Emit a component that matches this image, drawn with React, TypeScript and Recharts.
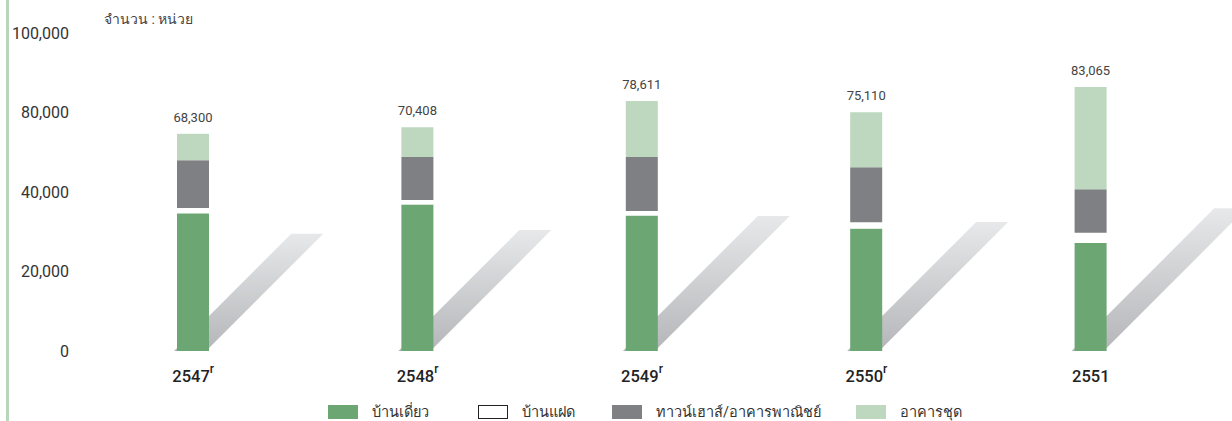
import { BarChart, Bar, XAxis, YAxis, LabelList } from "recharts"

const years = ["2547", "2548", "2549", "2550", "2551"]
const revised = [true, true, true, true, false]
const detached = [43300, 46100, 42600, 38500, 34000]
const semiDetached = [1700, 1400, 1400, 2000, 3200]
const townhouse = [15000, 13500, 17000, 17300, 13700]
const condo = [8300, 9400, 17600, 17300, 32100]
const totals = [68300, 70408, 78611, 75110, 83065]

const yTicks = [0, 25000, 50000, 75000, 100000]
const yTickLabels = ["0", "20,000", "40,000", "80,000", "100,000"]

const seriesNames = ["บ้านเดี่ยว", "บ้านแฝด", "ทาวน์เฮาส์/อาคารพาณิชย์", "อาคารชุด"]
const COLORS = ["#6ba673", "#ffffff", "#7f8083", "#bdd8be"]

const FONT = "Roboto, 'Noto Sans', sans-serif"
// shadow length relative to the bar total
const SHADOW_RATIO = 0.54

const data = years.map((year, i) => ({
  year,
  revised: revised[i],
  detached: detached[i],
  semiDetached: semiDetached[i],
  townhouse: townhouse[i],
  condo: condo[i],
  total: totals[i],
}))

function DetachedShape(props: any) {
  const { x, y, width, height, fill, payload, index } = props
  const bottom = y + height
  const pxPerUnit = height / payload.detached
  const h = payload.total * SHADOW_RATIO * pxPerUnit
  const bx = x - 3
  const pts = [
    [bx, bottom],
    [bx + width, bottom],
    [bx + width + h, bottom - h],
    [bx + h, bottom - h],
  ]
  const id = `shadow-${index}`
  return (
    <g>
      <defs>
        <linearGradient id={id} x1="0" y1="0" x2="0" y2="1">
          <stop offset="0%" stopColor="#e7e8ea" />
          <stop offset="100%" stopColor="#b5b6b9" />
        </linearGradient>
      </defs>
      <polygon points={pts.map((p) => p.join(",")).join(" ")} fill={`url(#${id})`} />
      <rect x={x} y={y} width={width} height={height} fill={fill} />
    </g>
  )
}

function YearTick(props: any) {
  const { x, y, payload, index } = props
  return (
    <text x={x} y={y + 23} textAnchor="middle" fontFamily={FONT} fontSize={16.5} fontWeight={500} fill="#222">
      <tspan>{payload.value}</tspan>
      {revised[index] && (
        <tspan dy={-9} fontSize={12}>
          r
        </tspan>
      )}
    </text>
  )
}

export default function App() {
  return (
    <div style={{ position: "absolute", left: 0, top: 0, width: 1232, height: 421, background: "#fff", fontFamily: FONT }}>
      <div style={{ position: "absolute", left: 6, top: 0, width: 3, height: 421, background: "#b8d7ba" }} />
      <div style={{ position: "absolute", left: 104, top: 8, fontSize: 14, color: "#444" }}>จำนวน : หน่วย</div>
      <BarChart width={1232} height={421} data={data} margin={{ top: 33, right: 29, left: 6, bottom: 40 }} barSize={32}>
        <YAxis
          width={75}
          domain={[0, 100000]}
          ticks={yTicks}
          interval={0}
          axisLine={false}
          tickLine={false}
          tickSize={0}
          tickMargin={12}
          tickFormatter={(_v: number, i: number) => yTickLabels[i]}
          tick={{ fontSize: 16, fill: "#333", fontFamily: FONT }}
        />
        <XAxis dataKey="year" axisLine={false} tickLine={false} height={30} interval={0} tick={<YearTick />} />
        <Bar dataKey="detached" stackId="a" fill={COLORS[0]} shape={<DetachedShape />} isAnimationActive={false} />
        <Bar dataKey="semiDetached" stackId="a" fill={COLORS[1]} isAnimationActive={false} />
        <Bar dataKey="townhouse" stackId="a" fill={COLORS[2]} isAnimationActive={false} />
        <Bar dataKey="condo" stackId="a" fill={COLORS[3]} isAnimationActive={false}>
          <LabelList
            dataKey="total"
            position="top"
            offset={12}
            formatter={(v: any) => Number(v).toLocaleString("en-US")}
            style={{ fontSize: 13, fill: "#444", fontFamily: FONT }}
          />
        </Bar>
      </BarChart>
      <div style={{ position: "absolute", left: 328, top: 400, display: "flex", alignItems: "center", fontSize: 14.5, color: "#333" }}>
        {seriesNames.map((name, i) => (
          <div key={name} style={{ display: "flex", alignItems: "center", width: [150, 134, 244, 120][i] }}>
            <span
              style={{
                display: "inline-block",
                width: 30,
                height: 14,
                background: COLORS[i],
                border: i === 1 ? "1px solid #222" : "none",
                boxSizing: "border-box",
                marginRight: 14,
              }}
            />
            {name}
          </div>
        ))}
      </div>
    </div>
  )
}
